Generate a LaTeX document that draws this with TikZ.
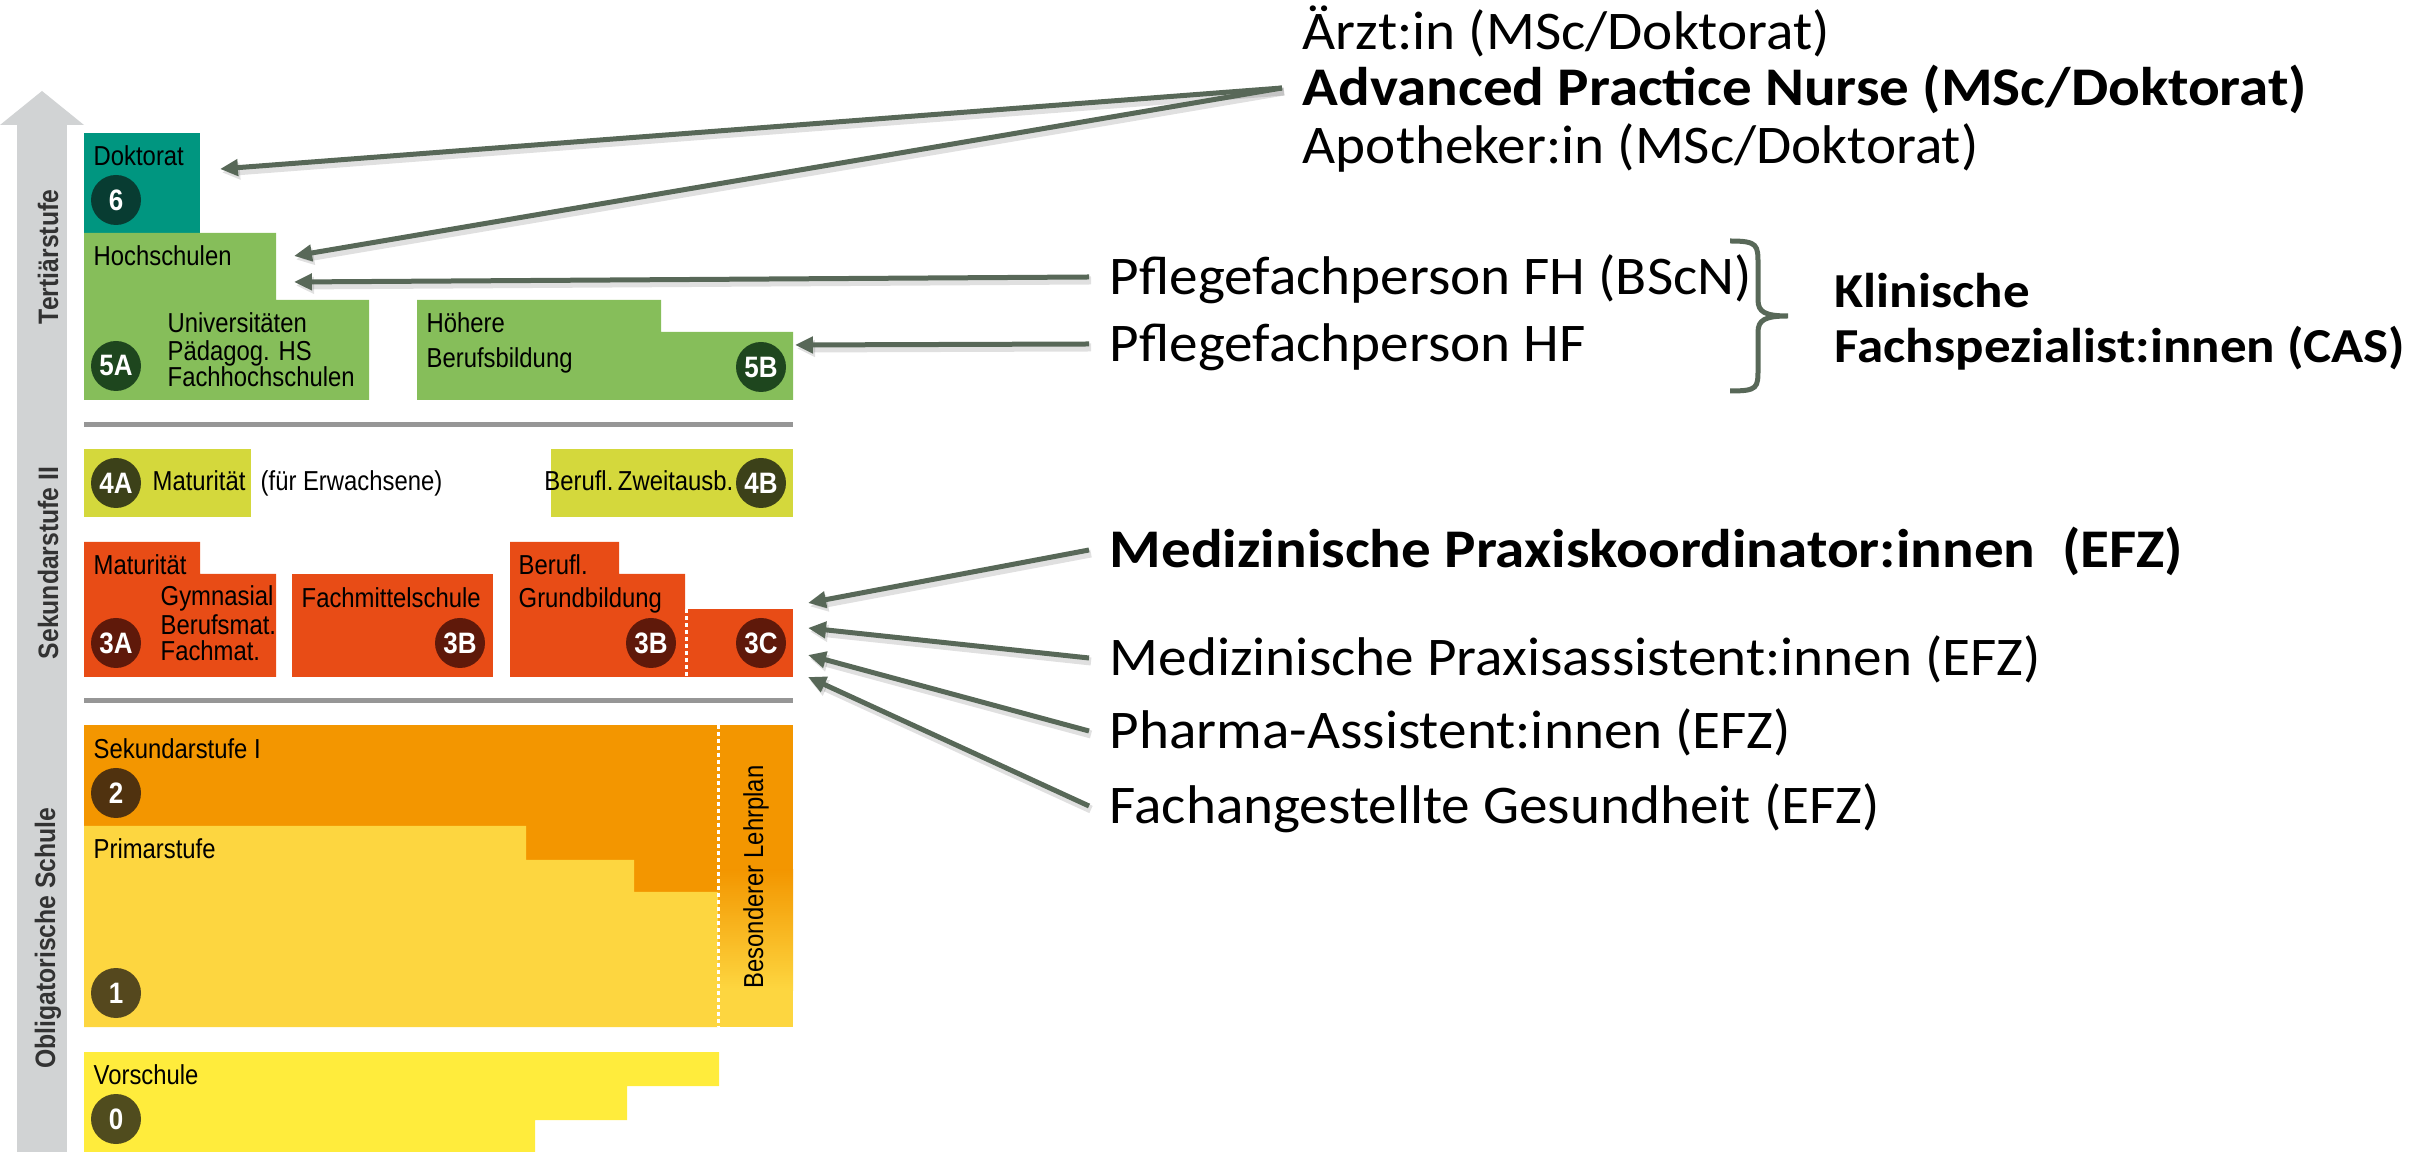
\documentclass[tikz,border=0pt]{standalone}
\usepackage{fontspec}
\setmainfont{Carlito}[FakeStretch=1.05,BoldFeatures={FakeStretch=1.085}]
\newfontfamily\boxfont{Liberation Sans}[FakeStretch=0.87]
\newfontfamily\stagefont{Liberation Sans}[FakeStretch=0.88]
\newfontfamily\numfont{Liberation Sans}[FakeStretch=0.88]
\usepackage{xcolor}
\usetikzlibrary{arrows.meta}

\definecolor{dokgreen}{RGB}{0,150,128}
\definecolor{hsgreen}{RGB}{134,190,90}
\definecolor{sekyel}{RGB}{212,216,60}
\definecolor{sekred}{RGB}{232,76,22}
\definecolor{sekorange}{RGB}{243,150,0}
\definecolor{primyel}{RGB}{253,214,64}
\definecolor{vorsyel}{RGB}{255,236,60}
\definecolor{stagegray}{RGB}{209,211,212}
\definecolor{sepgray}{RGB}{150,150,150}
\definecolor{arrowgreen}{RGB}{88,104,88}
\definecolor{titleblue}{RGB}{100,124,150}
\definecolor{dokdark}{RGB}{8,60,50}
\definecolor{hsdark}{RGB}{30,70,30}
\definecolor{yeldark}{RGB}{60,65,25}
\definecolor{reddark}{RGB}{95,25,10}
\definecolor{ordark}{RGB}{80,50,15}
\definecolor{primdark}{RGB}{85,72,30}
\definecolor{vorsdark}{RGB}{80,76,30}

\begin{document}
\begin{tikzpicture}[x=0.1mm,y=-0.1mm,
	lbl/.style={anchor=base west,inner sep=0pt,font=\boxfont\fontsize{7.8}{8}\selectfont},
	stage/.style={rotate=90,inner sep=0pt,text=black!80,font=\stagefont\bfseries\fontsize{8}{9}\selectfont},
	lvl/.style={circle,fill=#1,text=white,inner sep=0pt,minimum size=5mm,font=\numfont\bfseries\fontsize{8.4}{9}\selectfont},
	job/.style={anchor=west,inner xsep=2mm,inner ysep=0pt,text height=3.5mm,text depth=0pt,font=\fontsize{15.5}{18}\selectfont},
	cas/.style={anchor=west,inner sep=0pt,text height=2.9mm,text depth=0pt,font=\fontsize{13.9}{16}\selectfont\bfseries},
	pfeil/.style={draw=arrowgreen,line width=0.5mm,-{Triangle[length=1.8mm,width=1.6mm]},
		preaction={draw=black,opacity=0.12,line width=0.8mm,transform canvas={shift={(0.2mm,-0.35mm)}}}},
	dotsep/.style={draw=white,line width=0.3mm,dash pattern=on 0.4mm off 0.3mm}]
		\def\xl{84}
		\def\xr{793}
		\useasboundingbox (0,0) rectangle (2409,1152);
		% rest of the title line
		\node[anchor=base west,inner sep=0pt,text=titleblue,font=\fontsize{18.8}{20}\selectfont] (titleA) at (126,-17) {g};
		\node[anchor=base west,inner sep=0pt,text=titleblue,font=\fontsize{18.8}{20}\selectfont] (titleB) at (620,-17) {g,};
		% gray arrow on the left
		\fill[stagegray] (17,125) rectangle (67,1160);
		\fill[stagegray] (0,125) -- (42,91) -- (84,125) -- cycle;
		\node[stage] (tert) at (48,257) {Tertiärstufe};
		\node[stage] (sek2) at (48,563) {Sekundarstufe II};
		\node[stage] (oblig) at (48,938) {Obligatorische Schule};
		% tertiary
		\fill[dokgreen] (\xl,133) rectangle (200,233);
		\fill[hsgreen] (\xl,233) -- (276,233) -- (276,300) -- (369,300) -- (369,400) -- (\xl,400) -- cycle;
		\fill[hsgreen] (417,300) -- (661,300) -- (661,332) -- (\xr,332) -- (\xr,400) -- (417,400) -- cycle;
		\node[lbl] (dok) at (93,166) {Doktorat};
		\node[lbl] (hs) at (93,266) {Hochschulen};
		\node[lbl] (uni) at (167,333) {Universitäten};
		\node[lbl] (phs) at (167,361) {Pädagog. HS};
		\node[lbl] (fhs) at (167,387) {Fachhochschulen};
		\node[lbl] (hoe) at (426,333) {Höhere};
		\node[lbl] (bb) at (426,368) {Berufsbildung};
		\node[lvl=dokdark] (c6) at (116,200) {6};
		\node[lvl=hsdark] (c5a) at (116,366) {5A};
		\node[lvl=hsdark] (c5b) at (761,367) {5B};
		\draw[sepgray,line width=0.5mm] (\xl,425) -- (\xr,425);
		% secondary II
		\fill[sekyel] (\xl,449) rectangle (251,517);
		\fill[sekyel] (551,449) rectangle (\xr,517);
		\node[lvl=yeldark] (c4a) at (116,483) {4A};
		\node[lvl=yeldark] (c4b) at (761,483) {4B};
		\node[lbl] (mat4) at (152,491) {Maturität};
		\node[lbl] (erw) at (260,491) {(für Erwachsene)};
		\node[lbl,anchor=base east] (zweit) at (734,491) {Berufl.\,Zweitausb.};
		\fill[sekred] (\xl,542) -- (200,542) -- (200,574) -- (276,574) -- (276,677) -- (\xl,677) -- cycle;
		\fill[sekred] (292,574) rectangle (493,677);
		\fill[sekred] (510,542) -- (619,542) -- (619,574) -- (685,574) -- (685,677) -- (510,677) -- cycle;
		\fill[sekred] (685,609) rectangle (\xr,677);
		\draw[dotsep] (686,609) -- (686,677);
		\node[lbl] (mat3) at (93,575) {Maturität};
		\node[lbl] (gym) at (160,606) {Gymnasial};
		\node[lbl] (bms) at (160,635) {Berufsmat.};
		\node[lbl] (fms) at (160,661) {Fachmat.};
		\node[lbl] (fmsch) at (301,608) {Fachmittelschule};
		\node[lbl] (berufl) at (518,575) {Berufl.};
		\node[lbl] (grund) at (518,608) {Grundbildung};
		\node[lvl=reddark] (c3a) at (116,643) {3A};
		\node[lvl=reddark] (c3b) at (460,643) {3B};
		\node[lvl=reddark] (c3bb) at (651,643) {3B};
		\node[lvl=reddark] (c3c) at (761,643) {3C};
		\draw[sepgray,line width=0.5mm] (\xl,701) -- (\xr,701);
		% compulsory school
		\fill[sekorange] (\xl,725) rectangle (\xr,1027);
		\fill[primyel] (\xl,826) -- (526,826) -- (526,860) -- (634,860) -- (634,892) -- (718,892) -- (718,1027) -- (\xl,1027) -- cycle;
		\shade[top color=sekorange,bottom color=primyel] (718,870) rectangle (\xr,990);
		\fill[primyel] (718,990) rectangle (\xr,1027);
		\draw[dotsep] (718,725) -- (718,1027);
		\node[lbl,anchor=center,rotate=90] (blp) at (756,877) {Besonderer Lehrplan};
		\node[lbl] (sek1) at (93,759) {Sekundarstufe I};
		\node[lbl] (prim) at (93,859) {Primarstufe};
		\node[lvl=ordark] (c2) at (116,793) {2};
		\node[lvl=primdark] (c1) at (116,993) {1};
		\fill[vorsyel] (\xl,1052) -- (719,1052) -- (719,1086) -- (627,1086) -- (627,1120) -- (535,1120) -- (535,1160) -- (\xl,1160) -- cycle;
		\node[lbl] (vors) at (93,1084) {Vorschule};
		\node[lvl=vorsdark] (c0) at (116,1119) {0};
		% where the arrows end
		\coordinate (dokin) at (220,169);
		\coordinate (hsin) at (294,256);
		\coordinate (hsinb) at (294,282);
		\coordinate (hbin) at (795,345);
		\coordinate (ebaA) at (808,603);
		\coordinate (ebaB) at (808,628);
		\coordinate (ebaC) at (808,655);
		\coordinate (ebaD) at (808,677);
		% professions
		\node[job] (arzt) at (1282,32) {Ärzt:in (MSc/Doktorat)};
		\node[job,font=\fontsize{15.5}{18}\selectfont\bfseries] (apn) at (1282,88) {Advanced Practice Nurse (MSc/Doktorat)};
		\node[job] (apo) at (1282,146) {Apotheker:in (MSc/Doktorat)};
		\node[job] (pfh) at (1089,277) {Pflegefachperson FH (BScN)};
		\node[job] (phf) at (1089,344) {Pflegefachperson HF};
		\node[job,font=\fontsize{15.5}{18}\selectfont\bfseries] (mpk) at (1089,550) {Medizinische Praxiskoordinator:innen\ \ (EFZ)};
		\node[job] (mpa) at (1089,658) {Medizinische Praxisassistent:innen (EFZ)};
		\node[job] (pha) at (1089,731) {Pharma-Assistent:innen (EFZ)};
		\node[job] (fage) at (1089,806) {Fachangestellte Gesundheit (EFZ)};
		% brace
		\draw[arrowgreen,line width=0.5mm] (1730,241) .. controls (1758,241) and (1758,245) .. (1758,265) -- (1758,300)
			.. controls (1758,312) and (1765,316) .. (1788,316) .. controls (1765,316) and (1758,320) .. (1758,332)
			-- (1758,368) .. controls (1758,388) and (1758,391) .. (1730,391);
		\node[cas] (klin) at (1834,293) {Klinische};
		\node[cas] (fsp) at (1834,348) {Fachspezialist:innen (CAS)};
		% arrows
		\draw[pfeil] (apn.west) -- (dokin);
		\draw[pfeil] (apn.west) -- (hsin);
		\draw[pfeil] (pfh.west) -- (hsinb);
		\draw[pfeil] (phf.west) -- (hbin);
		\draw[pfeil] (mpk.west) -- (ebaA);
		\draw[pfeil] (mpa.west) -- (ebaB);
		\draw[pfeil] (pha.west) -- (ebaC);
		\draw[pfeil] (fage.west) -- (ebaD);
\end{tikzpicture}
\end{document}
